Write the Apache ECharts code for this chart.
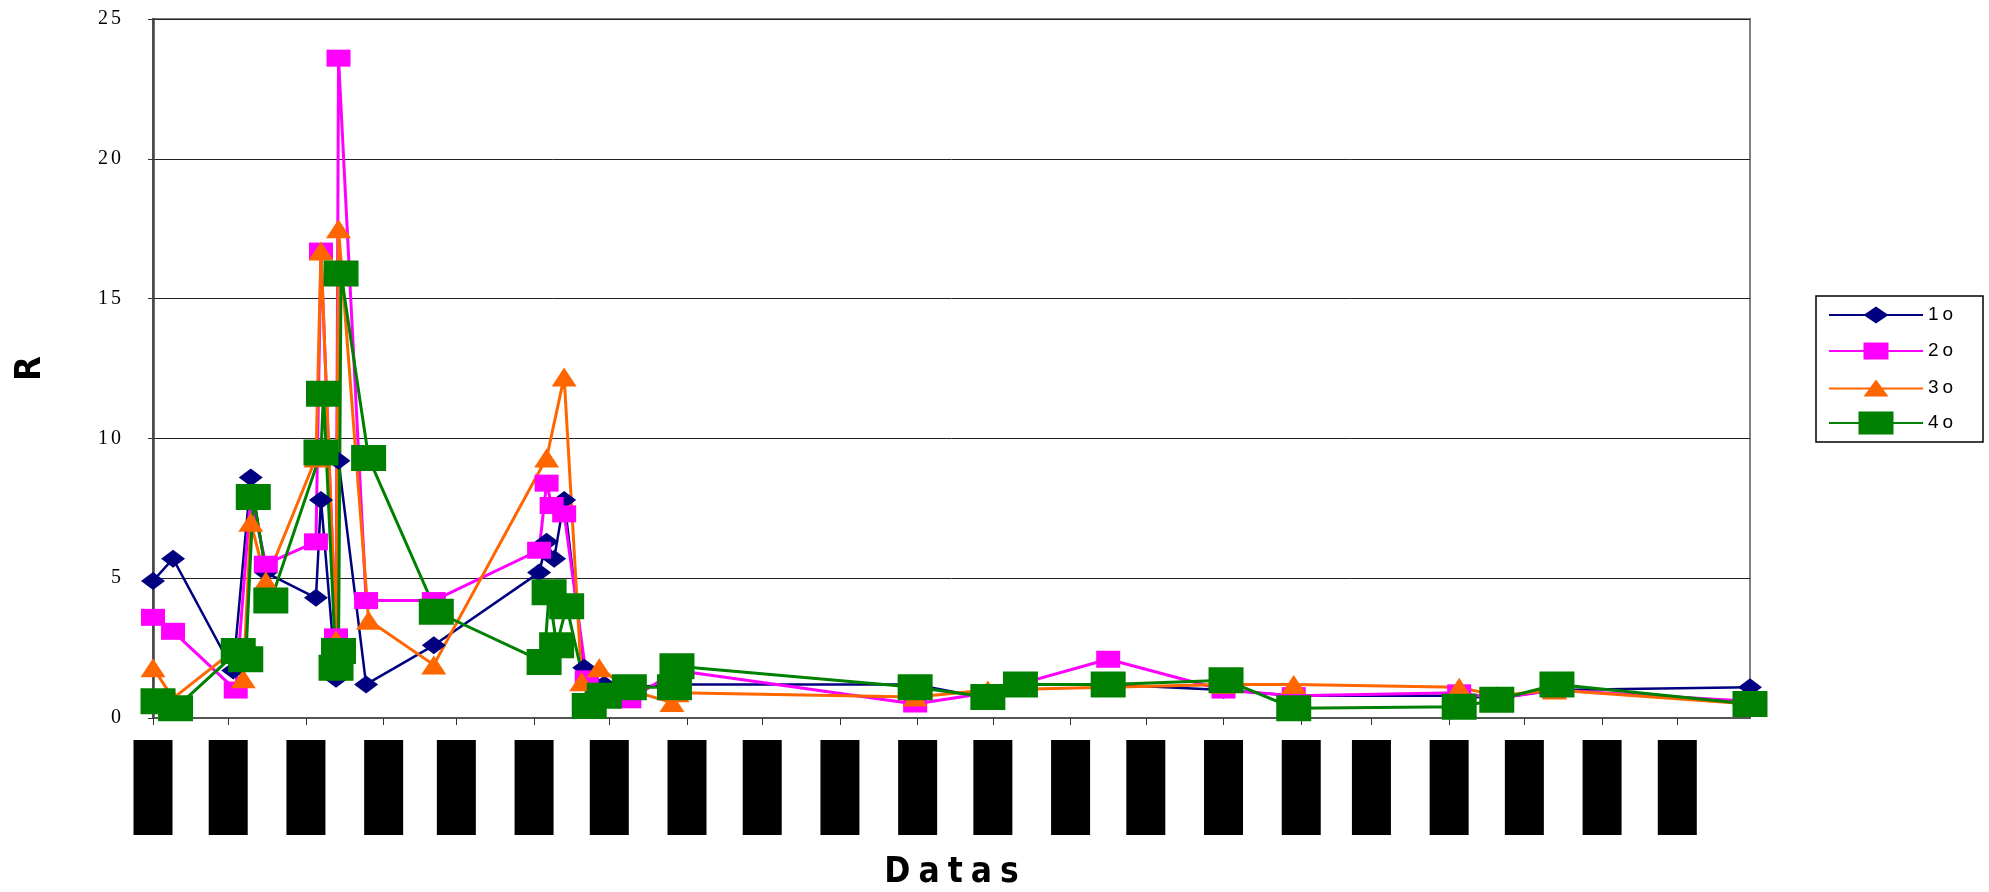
<!DOCTYPE html>
<html>
<head>
<meta charset="utf-8">
<script src="https://cdn.jsdelivr.net/npm/echarts@6/dist/echarts.min.js"></script>
<style>
  html, body { margin: 0; padding: 0; background: #fff; }
  #chart { width: 1989px; height: 892px; }
</style>
</head>
<body>
<div id="chart"></div>
<script>
// ---- data: sampling dates and R values per series ----
const dates1 = ['2003-11-01','2003-11-09','2003-12-03','2003-12-10','2003-12-16','2004-01-05','2004-01-07','2004-01-13','2004-01-14','2004-01-25','2004-02-21','2004-04-03','2004-04-06','2004-04-09','2004-04-13','2004-04-21','2004-04-29','2004-05-09','2004-05-28','2004-08-31','2004-09-29','2004-10-12','2004-11-16','2005-01-01','2005-01-29','2005-04-05','2005-04-20','2005-05-13','2005-07-30'];
const r1 = [4.9, 5.7, 1.7, 8.6, 5.2, 4.3, 7.8, 1.4, 9.2, 1.2, 2.6, 5.2, 6.3, 5.7, 7.8, 1.8, 1.2, 1.1, 1.2, 1.2, 0.7, 1.2, 1.2, 1.0, 0.8, 0.8, 0.7, 1.0, 1.1];

const dates2 = ['2003-11-01','2003-11-09','2003-12-04','2003-12-10','2003-12-16','2004-01-05','2004-01-07','2004-01-13','2004-01-14','2004-01-25','2004-02-21','2004-04-03','2004-04-06','2004-04-08','2004-04-13','2004-04-22','2004-04-29','2004-05-09','2004-05-28','2004-08-31','2004-09-29','2004-11-16','2005-01-01','2005-01-29','2005-04-05','2005-04-20','2005-05-13','2005-07-30'];
const r2 = [3.6, 3.1, 1.0, 8.0, 5.5, 6.3, 16.7, 2.9, 23.6, 4.2, 4.2, 6.0, 8.4, 7.6, 7.3, 1.4, 0.8, 0.65, 1.7, 0.5, 0.9, 2.1, 1.0, 0.8, 0.9, 0.7, 1.0, 0.6];

const dates3 = ['2003-11-01','2003-11-09','2003-12-03','2003-12-07','2003-12-10','2003-12-16','2004-01-05','2004-01-07','2004-01-13','2004-01-14','2004-01-26','2004-02-21','2004-04-06','2004-04-13','2004-04-20','2004-04-27','2004-05-09','2004-05-26','2004-05-28','2004-08-31','2004-09-29','2004-11-16','2005-01-01','2005-01-29','2005-04-05','2005-04-20','2005-05-13','2005-07-30'];
const r3 = [1.8, 0.7, 2.4, 1.4, 7.0, 4.9, 9.3, 16.7, 2.8, 17.5, 3.5, 1.9, 9.3, 12.2, 1.3, 1.8, 1.0, 0.55, 0.9, 0.75, 1.0, 1.1, 1.2, 1.2, 1.1, 0.8, 1.0, 0.5];

const dates4 = ['2003-11-03','2003-11-10','2003-12-05','2003-12-08','2003-12-11','2003-12-18','2004-01-07','2004-01-08','2004-01-13','2004-01-14','2004-01-15','2004-01-26','2004-02-22','2004-04-05','2004-04-07','2004-04-10','2004-04-14','2004-04-23','2004-04-29','2004-05-09','2004-05-27','2004-05-28','2004-08-31','2004-09-29','2004-10-12','2004-11-16','2005-01-02','2005-01-29','2005-04-05','2005-04-20','2005-05-14','2005-07-30'];
const r4 = [0.6, 0.35, 2.4, 2.1, 7.9, 4.2, 9.5, 11.6, 1.8, 2.4, 15.9, 9.3, 3.8, 2.0, 4.5, 2.6, 4.0, 0.43, 0.8, 1.1, 1.1, 1.85, 1.1, 0.75, 1.2, 1.2, 1.35, 0.35, 0.4, 0.65, 1.2, 0.5];

const seriesNames = ['1o', '2o', '3o', '4o'];

// date axis range; ticks fall on the first day of each month
const axisStart = '2003-11-01';
const axisEnd = '2005-07-30';
const yTicks = [0, 5, 10, 15, 20, 25];
const DAY = 86400000;

// ---- helpers ----
const pad2 = n => (n < 10 ? '0' : '') + n;
const fmtDate = v => { const d = new Date(v); return pad2(d.getDate()) + '/' + pad2(d.getMonth() + 1) + '/' + String(d.getFullYear()).slice(2); };
// wide letter spacing through rich text segments
function spaced(str, key) {
  return String(str).split('').map((c, i) => '{' + (i ? key + 's' : key) + '|' + c + '}').join('');
}
function richPair(key, base, gap) {
  const o = {};
  o[key] = Object.assign({}, base);
  o[key + 's'] = Object.assign({}, base, { padding: [0, 0, 0, gap] });
  return o;
}

const NARROW = '"Liberation Sans Narrow", "DejaVu Sans Condensed", "Liberation Sans", sans-serif';
const SERIF = '"Liberation Serif", "DejaVu Serif", serif';
const SANS = '"Liberation Sans", Arial, sans-serif';

const colors = ['#000080', '#FF00FF', '#FF6600', '#008000'];
const symbols = ['diamond', 'rect', 'triangle', 'rect'];
const symbolSizes = [[24, 18], [24, 17], [25, 19], [35, 26]];
const lineWidths = [2.5, 3, 3, 3];
const allDates = [dates1, dates2, dates3, dates4];
const allValues = [r1, r2, r3, r4];

// legend icons: a thin line with the series marker in the middle
const legendIcons = [
  'path://M0,7.5L94,7.5L94,9.5L0,9.5Z M47,0L59.5,8.5L47,17L34.5,8.5Z',
  'path://M0,7.5L94,7.5L94,9.5L0,9.5Z M34.5,0L59.5,0L59.5,17L34.5,17Z',
  'path://M0,8L94,8L94,10L0,10Z M47,0L59.5,17L34.5,17Z',
  'path://M0,10.5L94,10.5L94,12.5L0,12.5Z M29.5,0L64.5,0L64.5,23L29.5,23Z'
];
const legendHeights = [17, 17, 17, 23];
const legendCenters = [314, 350, 387, 423];

const chart = echarts.init(document.getElementById('chart'), null, { renderer: 'canvas' });

const series = seriesNames.map((name, k) => ({
  name: name,
  type: 'line',
  data: allDates[k].map((d, i) => [d, allValues[k][i]]),
  symbol: symbols[k],
  symbolSize: symbolSizes[k],
  showSymbol: true,
  showAllSymbol: true,
  color: colors[k],
  lineStyle: { color: colors[k], width: lineWidths[k] },
  itemStyle: { color: colors[k], borderWidth: 0 },
  emphasis: { disabled: true },
  animation: false,
  clip: false
}));

const legends = seriesNames.map((name, k) => ({
  data: [{ name: name, icon: legendIcons[k] }],
  left: 1829,
  top: legendCenters[k] - legendHeights[k] / 2,
  orient: 'vertical',
  padding: 0,
  itemWidth: 94,
  itemHeight: legendHeights[k],
  itemGap: 0,
  selectedMode: false,
  z: 10,
  itemStyle: { borderWidth: 0 },
  formatter: n => spaced(n, 'l'),
  textStyle: {
    rich: richPair('l', { fontFamily: SANS, fontSize: 19, color: '#000' }, 4)
  }
}));

chart.setOption({
  animation: false,
  backgroundColor: '#fff',
  grid: {
    left: 153, right: 239, top: 19, bottom: 174,
    show: true, borderColor: '#808080', borderWidth: 2, backgroundColor: '#fff',
    containLabel: false, outerBoundsMode: 'none'
  },
  legend: legends,
  graphic: [{
    type: 'rect', z: 1,
    shape: { x: 1816, y: 296, width: 167, height: 146 },
    style: { fill: '#fff', stroke: '#000', lineWidth: 1.5 }
  }],
  xAxis: {
    type: 'time',
    min: axisStart,
    max: axisEnd,
    minInterval: 28 * DAY,
    maxInterval: 31 * DAY,
    name: spaced('Datas', 'n'),
    nameLocation: 'middle',
    nameGap: 137,
    nameTextStyle: {
      rich: richPair('n', { fontFamily: NARROW, fontSize: 35, fontWeight: 'bold', color: '#000' }, 8)
    },
    axisLine: { show: true, onZero: false, lineStyle: { color: '#555', width: 2 } },
    axisTick: { show: true, inside: false, length: 7, lineStyle: { color: '#333', width: 1 } },
    splitLine: { show: false },
    axisLabel: {
      show: true,
      rotate: 90,
      margin: 22,
      formatter: v => (new Date(v).getDate() === 1 ? '{b|' + fmtDate(v) + '}' : ''),
      rich: {
        b: { width: 95, height: 39, lineHeight: 39, backgroundColor: '#000', color: '#000', fontSize: 11, fontFamily: SANS, align: 'right' }
      }
    }
  },
  yAxis: {
    type: 'value',
    min: yTicks[0],
    max: yTicks[yTicks.length - 1],
    interval: 5,
    name: 'R',
    nameLocation: 'middle',
    nameRotate: 90,
    nameGap: 104,
    nameTextStyle: { fontFamily: NARROW, fontSize: 36, fontWeight: 'bold', color: '#000' },
    axisLine: { show: true, lineStyle: { color: '#444', width: 2.5 } },
    axisTick: { show: true, inside: false, length: 5, lineStyle: { color: '#333', width: 1 } },
    splitLine: { show: true, lineStyle: { color: '#222', width: 1 } },
    axisLabel: {
      show: true,
      margin: 32,
      formatter: v => spaced(v, 'y'),
      rich: richPair('y', { fontFamily: SERIF, fontSize: 20, color: '#000' }, 3)
    }
  },
  series: series
});
</script>
</body>
</html>
